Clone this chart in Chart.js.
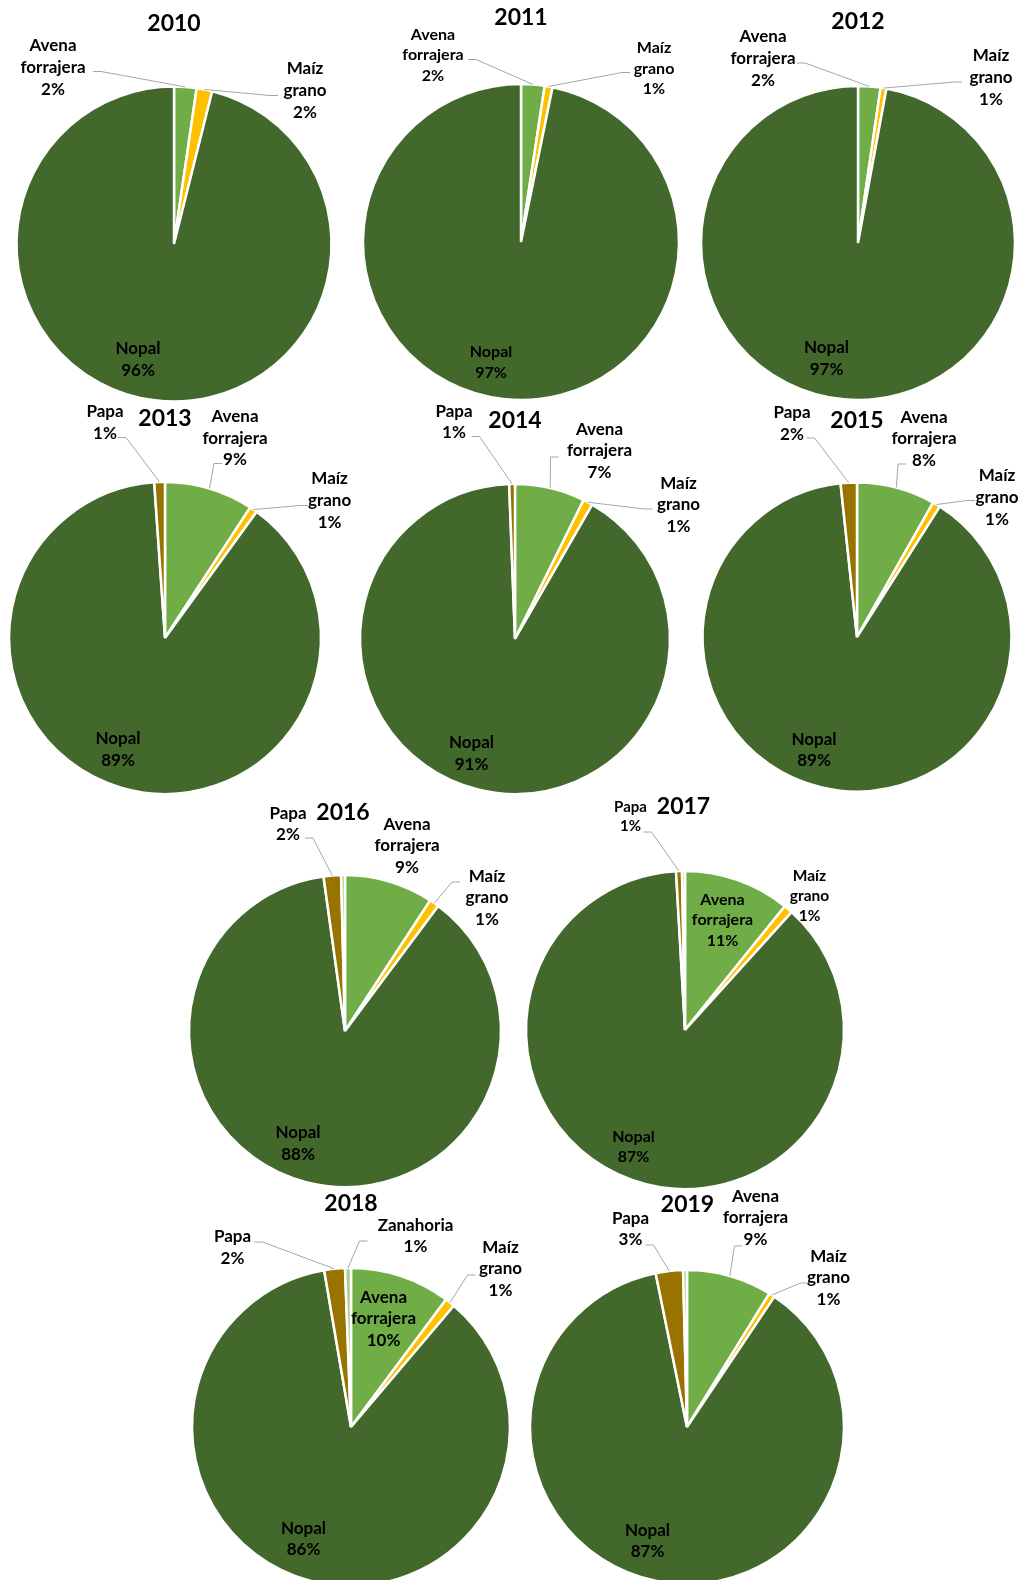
<!DOCTYPE html>
<html>
<head>
<meta charset="utf-8">
<script src="https://cdn.jsdelivr.net/npm/chart.js@4.4.1/dist/chart.umd.min.js"></script>
<style>
    body { margin: 0; width: 1023px; height: 1580px; overflow: hidden; background: #fff; position: relative; }
    canvas { position: absolute; }
</style>
</head>
<body>
<script>
// superficie por cultivo (%), un valor por año
const years = ['2010', '2011', '2012', '2013', '2014', '2015', '2016', '2017', '2018', '2019'];
const crops = ['Avena forrajera', 'Maíz grano', 'Nopal', 'Papa', 'Zanahoria'];
const avena = [2.3, 2.4, 2.3, 9.2, 7.3, 8.2, 9.2, 10.8, 10.2, 8.8];
const maiz = [1.6, 0.8, 0.6, 0.8, 1.0, 0.8, 1.0, 0.9, 1.0, 0.6];
const nopal = [96.1, 96.8, 97.1, 88.9, 91.1, 89.3, 87.6, 87.4, 86.1, 87.4];
const papa = [0, 0, 0, 1.1, 0.6, 1.7, 1.8, 0.6, 2.1, 2.8];
const zanahoria = [0, 0, 0, 0, 0, 0, 0.4, 0.3, 0.6, 0.4];
const colors = ['#70AD47', '#FFC000', '#43682B', '#997300', '#A9D18E'];

// where each pie sits on the page and where its labels go (relative to pie centre)
const layout = [
    {cx: 174, cy: 243.5, r: 157.5, title: [0, -220.5], labels: [
        {i: 0, at: [-121, -176.5], lead: [-81, -172.5]},
        {i: 1, at: [131, -153.5], lead: [104, -148.5]},
        {i: 2, at: [-36, 115.5]}]},
    {cx: 521, cy: 241.5, r: 158, title: [0, -224.5], labels: [
        {i: 0, at: [-88, -187], lead: [-53, -182.5], size: 16},
        {i: 1, at: [133, -173.5], lead: [109, -169.5], size: 16},
        {i: 2, at: [-30, 120.5], size: 16}]},
    {cx: 858, cy: 243, r: 157, title: [0, -221], labels: [
        {i: 0, at: [-95, -184.5], lead: [-61, -180]},
        {i: 1, at: [133, -165.5], lead: [104, -161]},
        {i: 2, at: [-31.5, 115.4]}]},
    {cx: 165, cy: 637.5, r: 156, title: [0, -219.5], labels: [
        {i: 3, at: [-60, -215.5], lead: [-47, -200.5]},
        {i: 0, at: [70, -199.8], lead: [57, -174.5]},
        {i: 1, at: [164.6, -137.5], lead: [143, -132.5]},
        {i: 2, at: [-47, 111.5]}]},
    {cx: 514.5, cy: 639, r: 155, title: [0, -218], labels: [
        {i: 3, at: [-61, -217], lead: [-43.5, -202.5]},
        {i: 0, at: [84.5, -188], lead: [43.5, -182]},
        {i: 1, at: [163.5, -134], lead: [137.5, -130]},
        {i: 2, at: [-43.5, 114.5]}]},
    {cx: 857, cy: 636.5, r: 154.5, title: [0, -216.5], labels: [
        {i: 3, at: [-65, -213.5], lead: [-50.5, -199]},
        {i: 0, at: [67, -198], lead: [49, -173]},
        {i: 1, at: [140, -139.5], lead: [118, -136.5]},
        {i: 2, at: [-43, 113]}]},
    {cx: 345, cy: 1031, r: 156, title: [-2, -218], labels: [
        {i: 3, at: [-57, -207], lead: [-40, -193]},
        {i: 0, at: [62, -185]},
        {i: 1, at: [142, -133], lead: [115, -149]},
        {i: 2, at: [-47, 112.5]}]},
    {cx: 684.5, cy: 1030, r: 159, title: [-1.5, -223], labels: [
        {i: 3, at: [-54.5, -213.5], lead: [-41.5, -198], size: 15},
        {i: 0, at: [37.5, -110], size: 16},
        {i: 1, at: [124.5, -134], size: 15.5},
        {i: 2, at: [-51.5, 117], size: 16}]},
    {cx: 350.5, cy: 1427, r: 159, title: [0, -223], labels: [
        {i: 3, at: [-118.5, -179.5], lead: [-96.5, -185]},
        {i: 4, at: [64.5, -191], lead: [16.5, -186]},
        {i: 1, at: [149.5, -158], lead: [124.5, -152]},
        {i: 0, at: [32.5, -108]},
        {i: 2, at: [-47.5, 112]}]},
    {cx: 686.5, cy: 1427, r: 157, title: [0.5, -222], labels: [
        {i: 3, at: [-56.5, -198], lead: [-41.5, -182]},
        {i: 0, at: [68.5, -209], lead: [55.5, -181]},
        {i: 1, at: [141.5, -149], lead: [121.5, -144]},
        {i: 2, at: [-39.5, 114]}]}
];

const W = 420, H = 480;
const FONT = 'Lato, "Open Sans", sans-serif';

// titles, data labels and leader lines drawn on top of the pie
const pieText = {
    id: 'pieText',
    afterDraw(chart, args, opts) {
        const ctx = chart.ctx;
        const arcs = chart.getDatasetMeta(0).data;
        const vals = chart.data.datasets[0].data;
        const total = vals.reduce((a, b) => a + b, 0);
        const cx = arcs[0].x, cy = arcs[0].y;
        ctx.save();
        ctx.fillStyle = '#000';
        ctx.textAlign = 'center';
        ctx.textBaseline = 'middle';
        ctx.font = 'bold 23px ' + FONT;
        ctx.fillText(opts.title, cx + opts.titleAt[0], cy + opts.titleAt[1]);

        opts.labels.forEach(l => {
            const arc = arcs[l.i];
            const size = l.size || 17;
            const lh = size * 1.28;
            const lines = chart.data.labels[l.i].split(' ')
                .concat(Math.round(vals[l.i] / total * 100) + '%');
            ctx.font = 'bold ' + size + 'px ' + FONT;
            const x = cx + l.at[0];
            const y0 = cy + l.at[1] - (lines.length - 1) * lh / 2;
            lines.forEach((t, k) => ctx.fillText(t, x, y0 + k * lh));

            if (l.lead) {
                const mid = (arc.startAngle + arc.endAngle) / 2;
                const px = cx + Math.cos(mid) * arc.outerRadius;
                const py = cy + Math.sin(mid) * arc.outerRadius;
                const ax = cx + l.lead[0], ay = cy + l.lead[1];
                const hx = ax + (px < ax ? -8 : 8);
                ctx.strokeStyle = '#A6A6A6';
                ctx.lineWidth = 1;
                ctx.beginPath();
                ctx.moveTo(ax, ay);
                ctx.lineTo(hx, ay);
                ctx.lineTo(px, py);
                ctx.stroke();
            }
        });
        ctx.restore();
    }
};

years.forEach((year, k) => {
    const lay = layout[k];
    const canvas = document.createElement('canvas');
    canvas.width = W;
    canvas.height = H;
    canvas.style.left = (lay.cx - W / 2) + 'px';
    canvas.style.top = (lay.cy - H / 2) + 'px';
    document.body.appendChild(canvas);

    new Chart(canvas.getContext('2d'), {
        type: 'pie',
        data: {
            labels: crops,
            datasets: [{
                data: [avena[k], maiz[k], nopal[k], papa[k], zanahoria[k]],
                backgroundColor: colors,
                borderColor: '#fff',
                borderWidth: 2.5,
                radius: lay.r
            }]
        },
        options: {
            responsive: false,
            animation: false,
            events: [],
            layout: {padding: 0},
            plugins: {
                legend: {display: false},
                tooltip: {enabled: false},
                title: {display: false},
                pieText: {title: year, titleAt: lay.title, labels: lay.labels}
            }
        },
        plugins: [pieText]
    });
});
</script>
</body>
</html>
